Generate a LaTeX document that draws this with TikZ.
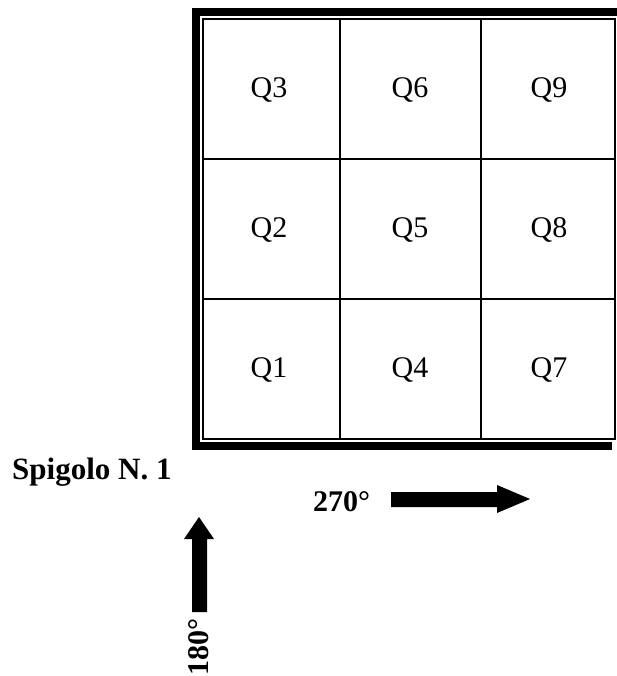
\documentclass[tikz,border=0pt]{standalone}
\usepackage{fontspec}
\setmainfont{Liberation Serif}
\begin{document}
\begin{tikzpicture}[x=1pt,y=-1pt,
  cell/.style={inner sep=0pt,font=\fontsize{30}{34}\selectfont},
  boldlbl/.style={inner sep=0pt,font=\fontsize{30}{34}\selectfont\bfseries},
  gridline/.style={line width=2pt}]
\useasboundingbox (0,0) rectangle (617,676);
% outer heavy frame
\fill[black] (192,8) rectangle (617,16);
\fill[black] (192,8) rectangle (200,450);
\fill[black] (192,442) rectangle (612,450);
% inner thin frame and grid
\draw[gridline] (203,19) rectangle (615,439);
\draw[gridline] (340,19) -- (340,439);
\draw[gridline] (481,19) -- (481,439);
\draw[gridline] (203,159) -- (615,159);
\draw[gridline] (203,299) -- (615,299);
% cell labels
\node[cell] (q3) at (269,90) {Q3};
\node[cell] (q6) at (410,90) {Q6};
\node[cell] (q9) at (549,90) {Q9};
\node[cell] (q2) at (269,230) {Q2};
\node[cell] (q5) at (410,230) {Q5};
\node[cell] (q8) at (549,230) {Q8};
\node[cell] (q1) at (269,370) {Q1};
\node[cell] (q4) at (410,370) {Q4};
\node[cell] (q7) at (549,370) {Q7};
% labels
\node[boldlbl,anchor=base west,font=\fontsize{31}{34}\selectfont\bfseries] (spig) at (12,479) {Spigolo N. 1};
\node[boldlbl,anchor=base west] (deg270) at (313,511) {270°};
\node[boldlbl,anchor=base east,rotate=90] (deg180) at (208,618) {180°};
% arrows
\fill[black] (391,492) -- (497,492) -- (497,485) -- (530,499) -- (497,513) -- (497,507) -- (391,507) -- cycle;
\fill[black] (192,612) -- (192,539) -- (184,539) -- (199,517) -- (214,539) -- (207,539) -- (207,612) -- cycle;
\end{tikzpicture}
\end{document}
